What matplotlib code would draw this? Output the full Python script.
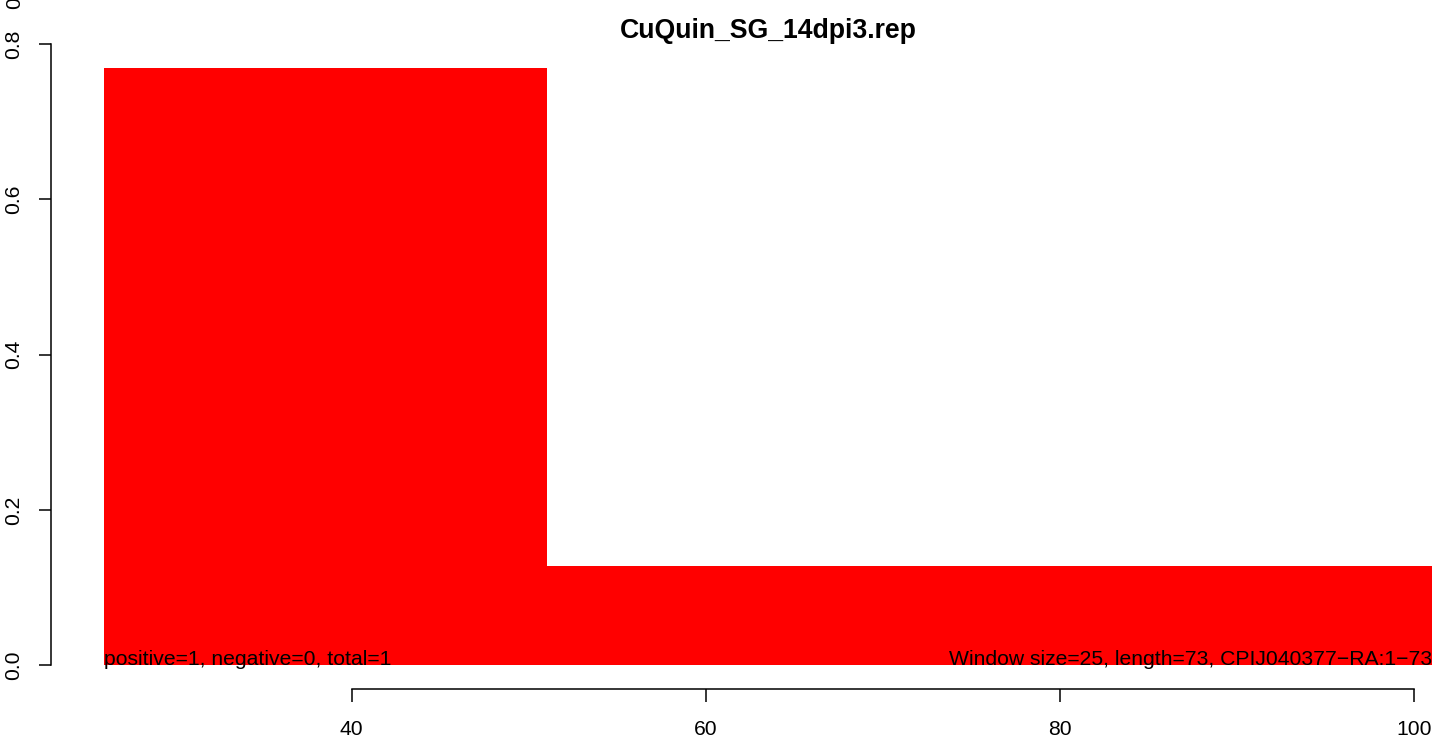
#!/usr/bin/env python3
import matplotlib
matplotlib.use("Agg")
import matplotlib.pyplot as plt

# window coverage values
win_start = [26, 51]
win_end = [51, 101]
values = [0.770, 0.128]

title = "CuQuin_SG_14dpi3.rep"
left_note = "positive=1, negative=0, total=1"
right_note = "Window size=25, length=73, CPIJ040377\u2212RA:1\u221273"
x_ticks = [40, 60, 80, 100]
y_ticks = [0.0, 0.2, 0.4, 0.6, 0.8]

plt.rcParams['font.family'] = ['Liberation Sans', 'DejaVu Sans']
FS = 15.2

fig = plt.figure(figsize=(14.44, 7.40), dpi=100)
fig.patch.set_facecolor('white')

# plot region runs past the right edge, like the R device it came from
W, H = 1444.0, 740.0
x_lo, x_hi = 23, 104
y_lo, y_hi = -0.0308, 0.8008
ax = fig.add_axes([50.7 / W, (H - 689) / H, (1485 - 50.7) / W, (689 - 43.6) / H])
ax.set_xlim(x_lo, x_hi)
ax.set_ylim(y_lo, y_hi)

widths = [e - s for s, e in zip(win_start, win_end)]
ax.bar(win_start, values, width=widths, align='edge', color='#ff0000',
       edgecolor='none', linewidth=0)

ax.text(win_start[0], 0, left_note, ha='left', va='baseline', fontsize=FS)
ax.text(win_end[-1], 0, right_note, ha='right', va='baseline', fontsize=FS)

for side in ['top', 'right']:
    ax.spines[side].set_visible(False)
ax.spines['left'].set_bounds(y_ticks[0], y_ticks[-1])
ax.spines['bottom'].set_bounds(x_ticks[0], x_ticks[-1])
for side in ['left', 'bottom']:
    ax.spines[side].set_linewidth(1.1)

ax.set_xticks(x_ticks)
ax.set_xticklabels([str(t) for t in x_ticks])
ax.set_yticks(y_ticks)
ax.set_yticklabels([f"{t:.1f}" for t in y_ticks], rotation=90, va='center')
ax.tick_params(axis='x', length=9, width=1.1, pad=13, labelsize=FS)
ax.tick_params(axis='y', length=9, width=1.1, pad=11, labelsize=FS)

ax.set_title(title, fontsize=19.2, fontweight='bold', pad=1.5)

# clipped label fragment at the very top left (cut off in the reference too)
fig.text(14.5 / W, (H - 9) / H, "0", rotation=90, ha='center', va='bottom',
         fontsize=FS)

fig.savefig("out.png", dpi=100)
